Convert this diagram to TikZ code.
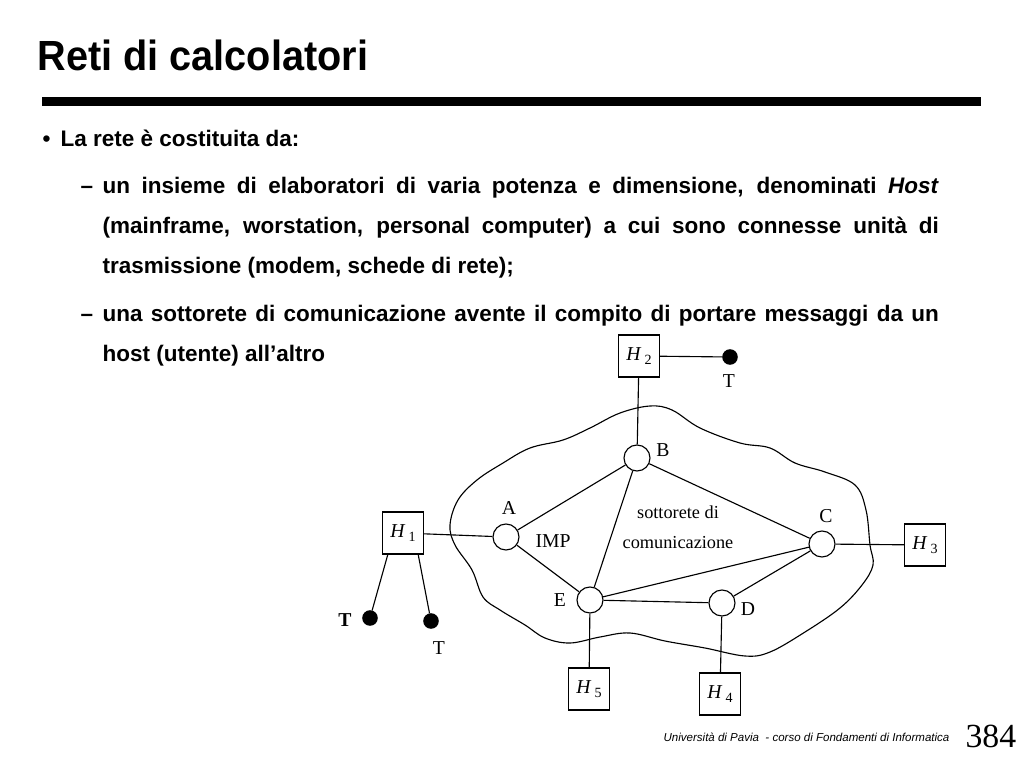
\documentclass[tikz,border=0pt]{standalone}
\usepackage{fontspec}
\setmainfont{Liberation Sans}
\newfontfamily\scanfont{Liberation Serif}
\usetikzlibrary{positioning, calc}
\tikzset{
  every picture/.style={line width=0.8pt},
  imp/.style={draw, circle, minimum size=0.65cm, inner sep=0pt},
  host/.style={draw, rectangle, minimum width=1.02cm, minimum height=1.05cm, inner sep=0pt,
    font=\scanfont\fontsize{14}{14}\selectfont},
  term/.style={draw, fill=black, circle, minimum size=0.36cm, inner sep=0pt},
  lbl/.style={font=\scanfont\fontsize{14}{14}\selectfont, inner sep=0pt},
  slidetext/.style={anchor=base west, inner sep=0pt, font=\bfseries\fontsize{16}{28.45}\selectfont},
}
\newcommand{\hostlabel}[1]{\textit{H}\,\raisebox{-3pt}{\fontsize{10}{10}\selectfont #1}}

\begin{document}
\begin{tikzpicture}[x=0.025cm, y=-0.025cm]
  \useasboundingbox (0,0) rectangle (1024,768);
  % title and rule
  \node[anchor=base west, inner sep=0pt, font=\bfseries\fontsize{30}{36}\selectfont] (title) at (37,71)
    {\scalebox{0.94}[1]{Reti di calcolatori}};
  \fill (42,97) rectangle (981,106);
  % bullet list
  \node[slidetext] (bul) at (42,147) {\textbullet};
  \node[slidetext] (item) at (60,147) {La rete è costituita da:};
  \node[slidetext] (dash1) at (80,193) {--};
  \node[slidetext, text width=20.9cm, align=justify, anchor=north west] (sub1) at (102,177)
    {un insieme di elaboratori di varia potenza e dimensione, denominati \textit{Host}\linebreak
     (mainframe, worstation, personal computer) a cui sono connesse unità di\linebreak
     trasmissione (modem, schede di rete);};
  \node[slidetext] (dash2) at (80,321) {--};
  \node[slidetext, text width=20.9cm, align=justify, anchor=north west] (sub2) at (102,305)
    {una sottorete di comunicazione avente il compito di portare messaggi da un\linebreak
     host (utente) all'altro};
  % subnet cloud
  \draw plot[smooth cycle, tension=0.6] coordinates {(620,413) (650,406) (672,410) (700,428)
    (740,443) (770,448) (795,463) (825,472) (855,485) (866,510) (870,545) (873,565) (862,585)
    (840,608) (805,632) (770,652) (745,656) (705,648) (665,641) (630,633) (600,637) (570,643)
    (545,638) (525,625) (500,610) (483,597) (472,570) (455,545) (450,525) (458,500) (477,480)
    (503,463) (530,448) (563,440) (590,428)};
  % IMP nodes
  \node[imp] (a) at (506,537) {};
  \node[imp] (b) at (637,458) {};
  \node[imp] (c) at (822,544) {};
  \node[imp] (d) at (722,603) {};
  \node[imp] (e) at (590,600) {};
  \node[lbl] (la) at (509,508) {A};
  \node[lbl] (lb) at (663,450) {B};
  \node[lbl] (lc) at (826,516) {C};
  \node[lbl] (ld) at (748,609) {D};
  \node[lbl] (le) at (560,600) {E};
  \node[lbl] (limp) at (553,541) {IMP};
  \node[lbl, align=center, font=\scanfont\fontsize{13}{21}\selectfont] (lsub) at (678,527) {sottorete di\\comunicazione};
  % hosts and terminals
  \node[host] (h1) at (403,533) {\hostlabel{1}};
  \node[host] (h2) at (639,356) {\hostlabel{2}};
  \node[host] (h3) at (925,545) {\hostlabel{3}};
  \node[host] (h4) at (720,694) {\hostlabel{4}};
  \node[host] (h5) at (589,689) {\hostlabel{5}};
  \node[term] (t1) at (370,618) {};
  \node[term] (t2) at (431,621) {};
  \node[term] (t3) at (730,357) {};
  \node[lbl, font=\scanfont\bfseries\fontsize{14}{14}\selectfont] (lt1) at (345,620) {T};
  \node[lbl] (lt2) at (439,648) {T};
  \node[lbl] (lt3) at (729,381) {T};
  % links
  \draw (a) -- (b) (a) -- (e) (b) -- (e) (b) -- (c) (e) -- (c) (e) -- (d) (d) -- (c);
  \draw (h1) -- (a) (h2) -- (b) (c) -- (h3) (d) -- (h4) (e) -- (h5) (h2) -- (t3);
  \draw ([xshift=-0.38cm]h1.south) -- (t1);
  \draw ([xshift=0.38cm]h1.south) -- (t2);
  % footer
  \node[anchor=base east, inner sep=0pt, font=\itshape\fontsize{8.2}{9}\selectfont] (foot) at (950,741)
    {Università di Pavia\ \ - corso di Fondamenti di Informatica};
  \node[anchor=base west, inner sep=0pt, font=\scanfont\fontsize{24}{24}\selectfont] (page) at (965,747) {384};
\end{tikzpicture}
\end{document}
